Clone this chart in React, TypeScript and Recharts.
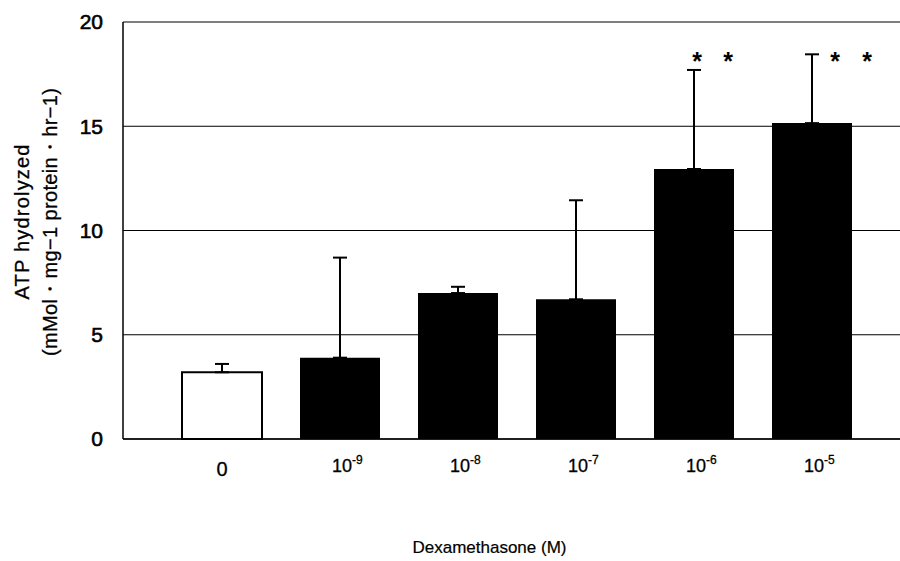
import React from 'react';
import { ComposedChart, Bar, Cell, XAxis, YAxis, CartesianGrid, ErrorBar, Scatter } from 'recharts';

const categories = ['0', '-9', '-8', '-7', '-6', '-5'];
const means = [3.2, 3.9, 7.0, 6.7, 12.95, 15.15];
const errorsUp = [0.4, 4.8, 0.3, 4.75, 4.75, 3.3];
const significant = [false, false, false, false, true, true];
const starLevel = 18.4;
const yTicks = [0, 5, 10, 15, 20];

const data = categories.map((c, i) => ({
  cat: c,
  mean: means[i],
  err: [0, errorsUp[i]],
  star: significant[i] ? starLevel : null,
}));

const FONT = '"Liberation Sans", Arial, sans-serif';

const XTick = (props: any) => {
  const { x, y, payload } = props;
  const v = payload.value as string;
  if (v === '0') {
    return (
      <text x={x} y={y + 37} textAnchor="middle" fontFamily={FONT} fontSize={20} fill="#000" stroke="#000" strokeWidth={0.3}>0</text>
    );
  }
  return (
    <text x={x - 8} y={y + 33} textAnchor="start" fontFamily={FONT} fontSize={18} fill="#000" stroke="#000" strokeWidth={0.3}>
      10
      <tspan dy={-8} fontSize={12}>{v}</tspan>
    </text>
  );
};

const StarShape = (props: any) => {
  const { cx, cy, index } = props;
  if (cx == null || cy == null) return null;
  const offs = index === 4 ? [3, 34] : [23, 55];
  return (
    <g>
      {offs.map((o, k) => (
        <text key={k} x={cx + o} y={cy + 15} textAnchor="middle" fontFamily={FONT} fontWeight="bold" fontSize={25} fill="#000">*</text>
      ))}
    </g>
  );
};

const YLabel = () => {
  const cy = 222;
  return (
    <g fontFamily={FONT} fontSize={20} fill="#000" stroke="#000" strokeWidth={0.3}>
      <text x={22} y={cy} textAnchor="middle" dominantBaseline="central" textLength={155} lengthAdjust="spacing" transform={`rotate(-90 22 ${cy})`}>ATP hydrolyzed</text>
      <text x={50} y={cy} textAnchor="middle" dominantBaseline="central" textLength={268} lengthAdjust="spacing" transform={`rotate(-90 50 ${cy})`}>(mMol・mg−1 protein・hr−1)</text>
    </g>
  );
};

const XLabel = (props: any) => {
  const vb = props.viewBox || { x: 123, y: 439, width: 777, height: 30 };
  return (
    <text x={vb.x + vb.width / 2 - 22} y={553} textAnchor="middle" fontFamily={FONT} fontSize={17} fill="#000" stroke="#000" strokeWidth={0.2}>Dexamethasone (M)</text>
  );
};

export default function App() {
  return (
    <div style={{ position: 'absolute', left: 0, top: 0, width: 900, height: 561, background: '#fff' }}>
      <ComposedChart width={900} height={561} data={data} margin={{ top: 22, right: 0, left: 0, bottom: 92 }}>
        <CartesianGrid horizontal vertical={false} stroke="#000" strokeWidth={1} />
        <XAxis
          dataKey="cat"
          type="category"
          height={30}
          padding={{ left: 40, right: 29 }}
          axisLine={{ stroke: '#000', strokeWidth: 1.5 }}
          tickLine={false}
          tickSize={0}
          tickMargin={0}
          tick={<XTick />}
          interval={0}
          label={<XLabel />}
        />
        <YAxis
          type="number"
          domain={[0, 20]}
          ticks={yTicks}
          width={123}
          axisLine={{ stroke: '#000', strokeWidth: 1.5 }}
          tickLine={false}
          tickSize={0}
          tickMargin={20}
          tick={{ fontFamily: FONT, fontSize: 21, fill: '#000', stroke: '#000', strokeWidth: 0.6 }}
          label={<YLabel />}
        />
        <Bar dataKey="mean" barSize={80} isAnimationActive={false}>
          {data.map((d, i) => (
            <Cell key={i} fill={i === 0 ? '#fff' : '#000'} stroke="#000" strokeWidth={i === 0 ? 2 : 0} />
          ))}
          <ErrorBar dataKey="err" direction="y" width={7} stroke="#000" strokeWidth={2} />
        </Bar>
        <Scatter dataKey="star" isAnimationActive={false} shape={<StarShape />} />
      </ComposedChart>
    </div>
  );
}
